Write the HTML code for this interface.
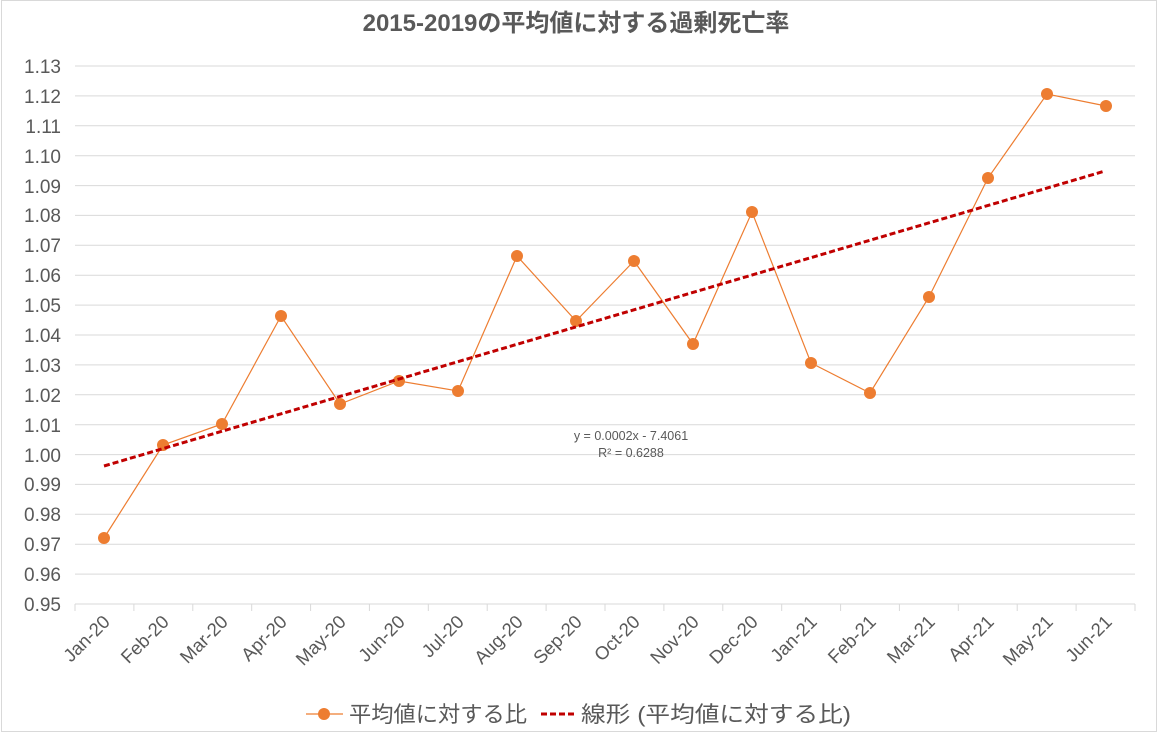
<!DOCTYPE html>
<html><head><meta charset="utf-8"><style>
html,body{margin:0;padding:0;background:#fff}
svg{display:block}
text{font-family:"Liberation Sans","Noto Sans CJK JP",sans-serif;fill:#595959}
</style></head><body>
<svg width="1158" height="733" viewBox="0 0 1158 733" xmlns="http://www.w3.org/2000/svg">
<rect x="1.5" y="0.5" width="1155" height="731" fill="#fff" stroke="#d9d9d9"/>
<text x="576" y="31" text-anchor="middle" font-size="24" font-weight="bold">2015-2019の平均値に対する過剰死亡率</text>
<g stroke="#d9d9d9" stroke-width="1">
<line x1="75" x2="1135" y1="66" y2="66"/><line x1="75" x2="1135" y1="95.9" y2="95.9"/><line x1="75" x2="1135" y1="125.8" y2="125.8"/><line x1="75" x2="1135" y1="155.7" y2="155.7"/><line x1="75" x2="1135" y1="185.6" y2="185.6"/><line x1="75" x2="1135" y1="215.4" y2="215.4"/><line x1="75" x2="1135" y1="245.3" y2="245.3"/><line x1="75" x2="1135" y1="275.2" y2="275.2"/><line x1="75" x2="1135" y1="305.1" y2="305.1"/><line x1="75" x2="1135" y1="335" y2="335"/><line x1="75" x2="1135" y1="364.9" y2="364.9"/><line x1="75" x2="1135" y1="394.8" y2="394.8"/><line x1="75" x2="1135" y1="424.7" y2="424.7"/><line x1="75" x2="1135" y1="454.6" y2="454.6"/><line x1="75" x2="1135" y1="484.4" y2="484.4"/><line x1="75" x2="1135" y1="514.3" y2="514.3"/><line x1="75" x2="1135" y1="544.2" y2="544.2"/><line x1="75" x2="1135" y1="574.1" y2="574.1"/><line x1="75" x2="1135" y1="604" y2="604"/>
<line x1="75" x2="75" y1="604" y2="611"/><line x1="133.9" x2="133.9" y1="604" y2="611"/><line x1="192.8" x2="192.8" y1="604" y2="611"/><line x1="251.7" x2="251.7" y1="604" y2="611"/><line x1="310.6" x2="310.6" y1="604" y2="611"/><line x1="369.4" x2="369.4" y1="604" y2="611"/><line x1="428.3" x2="428.3" y1="604" y2="611"/><line x1="487.2" x2="487.2" y1="604" y2="611"/><line x1="546.1" x2="546.1" y1="604" y2="611"/><line x1="605" x2="605" y1="604" y2="611"/><line x1="663.9" x2="663.9" y1="604" y2="611"/><line x1="722.8" x2="722.8" y1="604" y2="611"/><line x1="781.7" x2="781.7" y1="604" y2="611"/><line x1="840.6" x2="840.6" y1="604" y2="611"/><line x1="899.4" x2="899.4" y1="604" y2="611"/><line x1="958.3" x2="958.3" y1="604" y2="611"/><line x1="1017.2" x2="1017.2" y1="604" y2="611"/><line x1="1076.1" x2="1076.1" y1="604" y2="611"/><line x1="1135" x2="1135" y1="604" y2="611"/>
</g>
<g font-size="19" text-anchor="end">
<text x="61" y="73">1.13</text><text x="61" y="103">1.12</text><text x="61" y="133">1.11</text><text x="61" y="163">1.10</text><text x="61" y="193">1.09</text><text x="61" y="222">1.08</text><text x="61" y="252">1.07</text><text x="61" y="282">1.06</text><text x="61" y="312">1.05</text><text x="61" y="342">1.04</text><text x="61" y="372">1.03</text><text x="61" y="402">1.02</text><text x="61" y="432">1.01</text><text x="61" y="462">1.00</text><text x="61" y="491">0.99</text><text x="61" y="521">0.98</text><text x="61" y="551">0.97</text><text x="61" y="581">0.96</text><text x="61" y="611">0.95</text>
</g>
<g font-size="18.5" text-anchor="end">
<text transform="translate(111,623) rotate(-45)">Jan-20</text>
<text transform="translate(170,623) rotate(-45)">Feb-20</text>
<text transform="translate(229,623) rotate(-45)">Mar-20</text>
<text transform="translate(288,623) rotate(-45)">Apr-20</text>
<text transform="translate(347,623) rotate(-45)">May-20</text>
<text transform="translate(406,623) rotate(-45)">Jun-20</text>
<text transform="translate(465,623) rotate(-45)">Jul-20</text>
<text transform="translate(524,623) rotate(-45)">Aug-20</text>
<text transform="translate(583,623) rotate(-45)">Sep-20</text>
<text transform="translate(641,623) rotate(-45)">Oct-20</text>
<text transform="translate(700,623) rotate(-45)">Nov-20</text>
<text transform="translate(759,623) rotate(-45)">Dec-20</text>
<text transform="translate(818,623) rotate(-45)">Jan-21</text>
<text transform="translate(877,623) rotate(-45)">Feb-21</text>
<text transform="translate(936,623) rotate(-45)">Mar-21</text>
<text transform="translate(995,623) rotate(-45)">Apr-21</text>
<text transform="translate(1054,623) rotate(-45)">May-21</text>
<text transform="translate(1113,623) rotate(-45)">Jun-21</text>
</g>
<polyline fill="none" stroke="#ed7d31" stroke-width="1.2" points="104,538 163,445 222,424 281,316 340,404 399,381 458,391 517,256 576,321 634,261 693,344 752,212 811,363 870,393 929,297 988,178 1047,94 1106,106"/>
<g fill="#ed7d31">
<circle cx="104" cy="538" r="6"/><circle cx="163" cy="445" r="6"/><circle cx="222" cy="424" r="6"/><circle cx="281" cy="316" r="6"/><circle cx="340" cy="404" r="6"/><circle cx="399" cy="381" r="6"/><circle cx="458" cy="391" r="6"/><circle cx="517" cy="256" r="6"/><circle cx="576" cy="321" r="6"/><circle cx="634" cy="261" r="6"/><circle cx="693" cy="344" r="6"/><circle cx="752" cy="212" r="6"/><circle cx="811" cy="363" r="6"/><circle cx="870" cy="393" r="6"/><circle cx="929" cy="297" r="6"/><circle cx="988" cy="178" r="6"/><circle cx="1047" cy="94" r="6"/><circle cx="1106" cy="106" r="6"/>
</g>
<line x1="104" y1="466" x2="1105" y2="171" stroke="#c00000" stroke-width="3" stroke-dasharray="6,3"/>
<text x="631" y="440" font-size="12.5" text-anchor="middle">y = 0.0002x - 7.4061</text>
<text x="631" y="457" font-size="12.5" text-anchor="middle">R² = 0.6288</text>
<line x1="306" y1="714" x2="343" y2="714" stroke="#ed7d31" stroke-width="1.2"/>
<circle cx="324" cy="714" r="6" fill="#ed7d31"/>
<text x="349" y="722" font-size="22" textLength="178" lengthAdjust="spacingAndGlyphs">平均値に対する比</text>
<line x1="541" y1="714" x2="577" y2="714" stroke="#c00000" stroke-width="3" stroke-dasharray="6,3"/>
<text x="581" y="722" font-size="22" textLength="270" lengthAdjust="spacingAndGlyphs">線形 (平均値に対する比)</text>
</svg>
</body></html>
